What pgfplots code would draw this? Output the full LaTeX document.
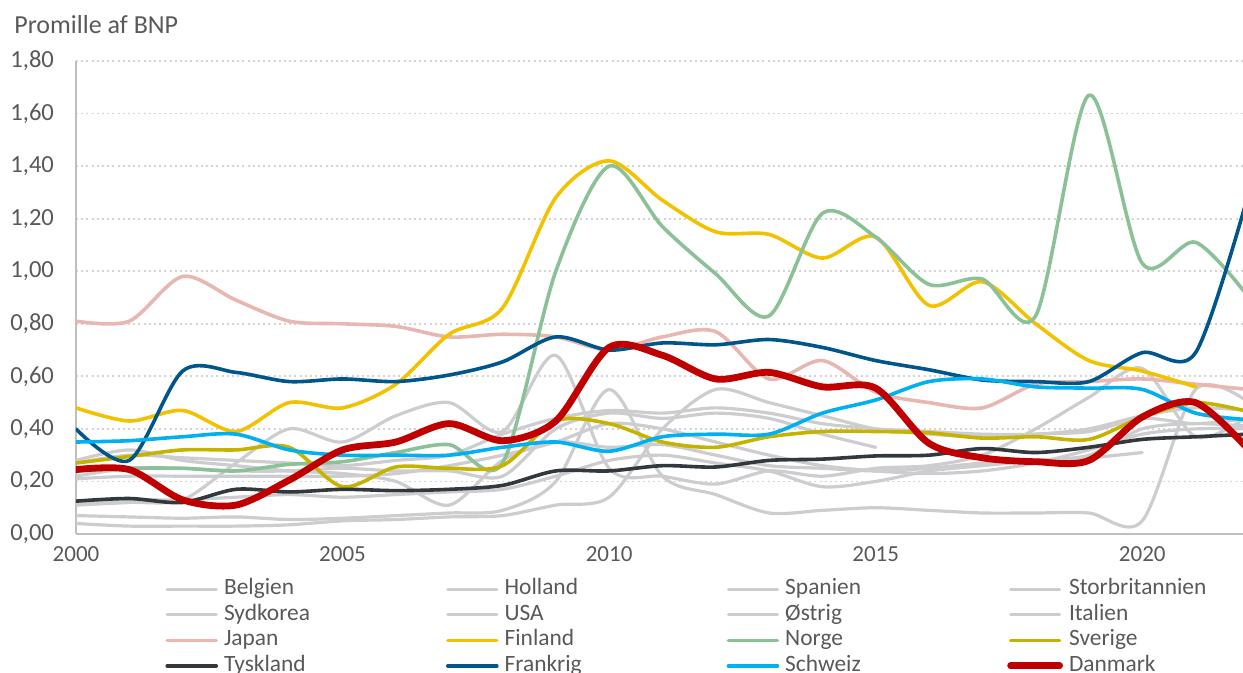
\documentclass[border=0pt]{standalone}
\usepackage{fontspec}
\setmainfont{Carlito}
\usepackage{pgfplots}
\pgfplotsset{compat=1.18}
\usepackage{pgfplotstable}

\definecolor{lgray}{HTML}{CDCDD0}
\definecolor{japan}{HTML}{E8B7B1}
\definecolor{finland}{HTML}{F2C200}
\definecolor{norge}{HTML}{8CC198}
\definecolor{sverige}{HTML}{C6B300}
\definecolor{tysk}{HTML}{33383D}
\definecolor{frank}{HTML}{00568A}
\definecolor{schweiz}{HTML}{00B0F0}
\definecolor{dk}{HTML}{C00000}
\definecolor{txt}{HTML}{595959}
\definecolor{axgray}{HTML}{BFBFBF}
\definecolor{grd}{HTML}{D4D4D4}

% promille af BNP, 2000-2022 (nan = no value)
\pgfplotstableread{
year Belgien Holland Spanien Storbr Sydkorea USA Ostrig Italien Japan Finland Norge Sverige Tyskland Frankrig Schweiz Danmark
2000 0.11 0.04  0.07  0.28 0.22 0.12 0.27 0.21 0.81 0.48 0.24  0.27  0.125 0.40  0.35  0.245
2001 0.12 0.03  0.065 0.32 0.25 0.13 0.30 0.22 0.81 0.43 0.25  0.295 0.135 0.28  0.355 0.245
2002 0.13 0.03  0.06  0.28 0.25 0.13 0.29 0.22 0.98 0.47 0.25  0.32  0.12  0.62  0.37  0.13
2003 0.27 0.03  0.065 0.26 0.24 0.14 0.28 0.22 0.89 0.39 0.24  0.32  0.17  0.615 0.38  0.11
2004 0.40 0.035 0.055 0.24 0.24 0.15 0.27 0.22 0.81 0.50 0.265 0.33  0.16  0.58  0.32  0.205
2005 0.35 0.05  0.06  0.23 0.25 0.14 0.26 0.22 0.80 0.48 0.275 0.18  0.17  0.59  0.30  0.32
2006 0.45 0.055 0.07  0.20 0.24 0.15 0.28 0.23 0.79 0.57 0.31  0.255 0.165 0.58  0.30  0.35
2007 0.50 0.065 0.08  0.11 0.24 0.16 0.30 0.26 0.75 0.76 0.34  0.25  0.17  0.605 0.30  0.42
2008 0.39 0.07  0.09  0.28 0.22 0.17 0.38 0.30 0.76 0.86 0.27  0.26  0.185 0.655 0.33  0.355
2009 0.68 0.11  0.20  0.35 0.40 0.22 0.44 0.35 0.75 1.28 1.00  0.43  0.24  0.75  0.35  0.43
2010 0.25 0.14  0.55  0.33 0.46 0.28 0.47 0.42 0.70 1.42 1.40  0.42  0.24  0.70  0.315 0.71
2011 0.22 0.40  0.22  0.34 0.44 0.30 0.46 0.40 0.75 1.27 1.17  0.35  0.26  0.727 0.37  0.68
2012 0.19 0.55  0.15  0.30 0.46 0.27 0.48 0.35 0.77 1.15 0.99  0.33  0.255 0.72  0.38  0.59
2013 0.24 0.50  0.08  0.26 0.44 0.24 0.46 0.30 0.59 1.14 0.83  0.37  0.28  0.74  0.38  0.615
2014 0.22 0.45  0.09  0.25 0.38 0.18 0.42 0.26 0.66 1.05 1.22  0.39  0.285 0.71  0.46  0.56
2015 0.25 0.40  0.10  0.24 0.33 0.20 0.40 0.24 0.54 1.13 1.13  0.39  0.297 0.66  0.51  0.555
2016 0.26 0.38  0.09  0.25 nan  0.24 0.39 0.23 0.50 0.87 0.95  0.385 0.30  0.625 0.58  0.345
2017 0.30 0.37  0.08  0.27 nan  0.26 0.38 0.24 0.48 0.96 0.97  0.365 0.325 0.586 0.59  0.29
2018 0.40 0.38  0.08  0.28 nan  0.28 0.38 0.27 0.57 0.80 0.83  0.37  0.31  0.58  0.56  0.275
2019 0.52 0.39  0.08  0.29 nan  0.30 0.40 0.32 0.58 0.66 1.67  0.36  0.33  0.58  0.555 0.28
2020 0.63 0.44  0.05  0.31 nan  0.40 0.45 0.38 0.59 0.62 1.03  0.445 0.36  0.69  0.55  0.445
2021 0.37 0.42  0.55  nan  nan  0.42 0.48 0.40 0.57 0.56 1.11  0.50  0.37  0.69  0.46  0.50
2022 0.45 0.44  0.50  nan  nan  0.41 0.47 0.40 0.55 nan  0.90  0.465 0.38  1.30  0.435 0.32
}\rdtable

\begin{document}
\begin{tikzpicture}
\begin{axis}[
  at={(0pt,0pt)}, anchor=south west,
  scale only axis, width=583.5pt, height=236.5pt,
  xmin=2000, xmax=2021.89, ymin=0, ymax=1.8,
  xtick={2000,2005,2010,2015,2020},
  ytick={0,0.2,...,1.8},
  major tick length=0pt,
  axis x line*=bottom, axis y line*=left,
  axis line style={axgray, line width=1pt},
  ymajorgrids, grid style={grd, line width=0.9pt, dash pattern=on 1pt off 1.6pt},
  tick label style={text=txt, font=\fontsize{11.5}{13}\selectfont},
  /pgf/number format/assume math mode=true,
  xticklabel style={yshift=-3pt, /pgf/number format/set thousands separator={}},
  yticklabel style={xshift=-7.5pt, font=\fontsize{12.3}{14}\selectfont,
    /pgf/number format/.cd, fixed, fixed zerofill, precision=2, use comma},
  no marks, unbounded coords=jump,
  every axis plot/.append style={smooth, tension=0.5, line cap=round, line join=round},
  legend columns=4,
  legend cell align=left,
  legend style={draw=none, fill=none, at={(0.0763,-0.094)}, anchor=north west,
    inner sep=0pt, row sep=2.25pt, font=\fontsize{11.7}{13}\selectfont, text=txt,
    nodes={inner xsep=3pt, inner ysep=0pt, text height=8pt, text depth=2.5pt}},
  legend image code/.code={\draw[#1] (1pt,0pt) -- (25.5pt,0pt);},
]
\addplot[lgray, line width=1.6pt] table[y=Belgien] {\rdtable};
\addlegendentry{\makebox[108pt][l]{Belgien}}
\addplot[lgray, line width=1.6pt] table[y=Holland] {\rdtable};
\addlegendentry{\makebox[108pt][l]{Holland}}
\addplot[lgray, line width=1.6pt] table[y=Spanien] {\rdtable};
\addlegendentry{\makebox[108pt][l]{Spanien}}
\addplot[lgray, line width=1.6pt] table[y=Storbr] {\rdtable};
\addlegendentry{Storbritannien}
\addplot[lgray, line width=1.6pt] table[y=Sydkorea] {\rdtable};
\addlegendentry{Sydkorea}
\addplot[lgray, line width=1.6pt] table[y=USA] {\rdtable};
\addlegendentry{USA}
\addplot[lgray, line width=1.6pt] table[y=Ostrig] {\rdtable};
\addlegendentry{Østrig}
\addplot[lgray, line width=1.6pt] table[y=Italien] {\rdtable};
\addlegendentry{Italien}
\addplot[japan, line width=1.8pt] table[y=Japan] {\rdtable};
\addlegendentry{Japan}
\addplot[finland, line width=1.8pt] table[y=Finland] {\rdtable};
\addlegendentry{Finland}
\addplot[norge, line width=1.8pt] table[y=Norge] {\rdtable};
\addlegendentry{Norge}
\addplot[sverige, line width=1.8pt] table[y=Sverige] {\rdtable};
\addlegendentry{Sverige}
\addplot[tysk, line width=1.8pt] table[y=Tyskland] {\rdtable};
\addlegendentry{Tyskland}
\addplot[frank, line width=1.8pt] table[y=Frankrig] {\rdtable};
\addlegendentry{Frankrig}
\addplot[schweiz, line width=1.8pt] table[y=Schweiz] {\rdtable};
\addlegendentry{Schweiz}
\addplot[dk, line width=3.4pt] table[y=Danmark] {\rdtable};
\addlegendentry{Danmark}
\end{axis}
\node[anchor=base west, inner sep=0pt, text=txt, font=\fontsize{13}{15}\selectfont]
  at (-31pt,250.3pt) {Promille af BNP};
\pgfresetboundingbox
\useasboundingbox (-38pt,-69.5pt) rectangle (583.5pt,267pt);
\end{tikzpicture}
\end{document}
